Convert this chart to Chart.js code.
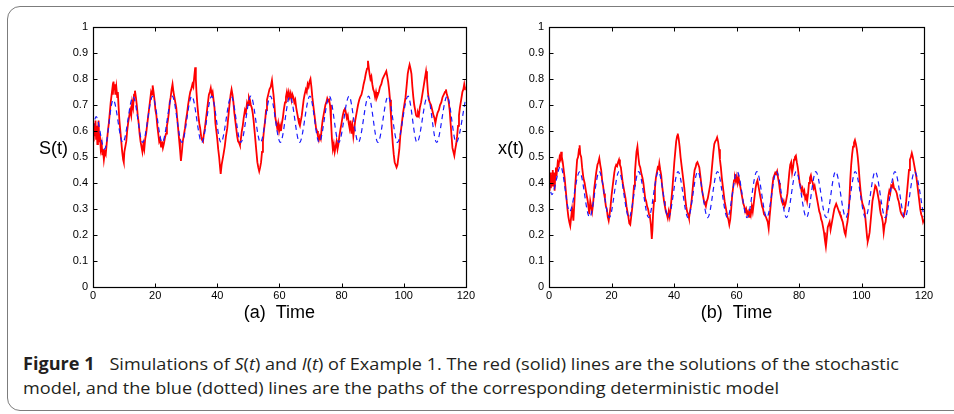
<!DOCTYPE html>
<html><head><meta charset="utf-8">
<script src="https://cdn.jsdelivr.net/npm/chart.js@4/dist/chart.umd.min.js"></script>
<style>
html,body{margin:0;padding:0;background:#fff;}
body{width:954px;height:414px;overflow:hidden;position:relative;font-family:"Liberation Sans",Arial,sans-serif;}
#frame{position:absolute;left:7px;top:6px;width:980px;height:403px;border:1px solid #7c7c7c;border-radius:13px;}
.cv{position:absolute;top:0;}
.ylab{position:absolute;font-size:18px;color:#000;line-height:20px;}
#caption{position:absolute;left:23px;top:352px;font-family:"Open Sans","Noto Sans",sans-serif;font-size:17px;line-height:24px;color:#231f20;}
#caption span.l{display:block;white-space:nowrap;transform-origin:0 0;}
#caption b{font-weight:700;margin-right:14px;}
</style></head>
<body>
<div id="frame"></div>
<div class="cv" style="left:0;width:477px;height:330px"><canvas id="cS" width="477" height="330"></canvas></div>
<div class="cv" style="left:477px;width:477px;height:330px"><canvas id="cX" width="477" height="330"></canvas></div>
<div class="ylab" style="left:39px;top:138px">S(t)</div>
<div class="ylab" style="left:498px;top:138px">x(t)</div>
<div id="caption">
<span class="l" id="cap1"><b>Figure 1</b>Simulations of <i>S</i>(<i>t</i>) and <i>I</i>(<i>t</i>) of Example 1. The red (solid) lines are the solutions of the stochastic</span>
<span class="l" id="cap2">model, and the blue (dotted) lines are the paths of the corresponding deterministic model</span>
</div>
<script>
// ---- tick labels ----
const xTicks = [0, 20, 40, 60, 80, 100, 120];
const yTicks = [0, 0.1, 0.2, 0.3, 0.4, 0.5, 0.6, 0.7, 0.8, 0.9, 1];
const xTitleA = "(a)  Time";
const xTitleB = "(b)  Time";

// ---- (a) S(t): stochastic path [t, value] ----
const stochasticS = [
[0,0.60],[0.2,0.56],[0.4,0.63],[0.6,0.58],[0.8,0.64],[1.0,0.57],[1.2,0.62],[1.4,0.55],[1.6,0.60],[1.8,0.64],[2.0,0.56],[2.2,0.59],[2.5,0.53],[2.8,0.55],[3.0,0.51],[3.2,0.53],[3.5,0.49],[3.8,0.52],[4.1,0.51],[4.4,0.55],[4.8,0.60],[5.1,0.63],[5.4,0.67],[5.7,0.71],[5.9,0.73],[6.2,0.76],[6.4,0.74],[6.6,0.79],[6.8,0.76],[7.0,0.78],[7.2,0.74],[7.5,0.77],[7.8,0.73],[8.0,0.75],[8.2,0.70],[8.5,0.64],[8.8,0.60],[9.1,0.56],[9.4,0.52],[9.7,0.49],[9.9,0.48],
[10.1,0.52],[10.4,0.54],[10.7,0.56],[11.0,0.60],[11.3,0.63],[11.7,0.66],[12.0,0.68],[12.3,0.66],[12.6,0.71],[12.9,0.69],[13.2,0.74],[13.5,0.755],[13.8,0.73],[14.1,0.70],[14.4,0.66],[14.7,0.63],[15.0,0.59],[15.3,0.56],[15.6,0.54],[15.9,0.52],[16.2,0.55],[16.5,0.53],[16.8,0.57],[17.1,0.59],[17.5,0.63],[17.8,0.66],[18.1,0.69],[18.4,0.72],[18.7,0.75],[19.0,0.74],[19.2,0.775],[19.5,0.75],[19.8,0.72],
[20.1,0.68],[20.4,0.66],[20.7,0.62],[21.0,0.59],[21.3,0.56],[21.6,0.57],[21.9,0.54],[22.2,0.56],[22.5,0.535],[22.8,0.55],[23.1,0.57],[23.5,0.59],[23.8,0.62],[24.1,0.64],[24.4,0.67],[24.7,0.71],[25.0,0.73],[25.3,0.76],[25.6,0.78],[25.9,0.75],[26.2,0.73],[26.5,0.71],[26.8,0.69],[27.1,0.65],[27.4,0.61],[27.7,0.57],[28.0,0.53],[28.3,0.485],[28.6,0.52],[28.9,0.56],[29.2,0.58],[29.6,0.61],[29.9,0.64],
[30.3,0.67],[30.6,0.70],[31.0,0.73],[31.3,0.75],[31.6,0.76],[32.0,0.78],[32.3,0.77],[32.6,0.81],[32.9,0.845],[33.1,0.80],[33.3,0.75],[33.6,0.70],[33.9,0.66],[34.2,0.63],[34.5,0.61],[34.8,0.58],[35.1,0.565],[35.4,0.56],[35.7,0.59],[36.0,0.61],[36.3,0.64],[36.6,0.67],[37.0,0.71],[37.3,0.74],[37.6,0.75],[37.9,0.765],[38.2,0.74],[38.5,0.75],[38.8,0.72],[39.1,0.69],[39.4,0.63],[39.7,0.60],
[40.0,0.57],[40.3,0.53],[40.6,0.50],[40.9,0.46],[41.1,0.435],[41.4,0.47],[41.7,0.49],[42.0,0.51],[42.4,0.54],[42.8,0.58],[43.2,0.61],[43.6,0.66],[44.0,0.71],[44.3,0.74],[44.6,0.76],[44.9,0.74],[45.2,0.71],[45.5,0.67],[45.8,0.64],[46.1,0.61],[46.4,0.58],[46.7,0.56],[47.0,0.555],[47.3,0.545],[47.6,0.57],[47.9,0.60],[48.2,0.62],[48.5,0.65],[48.9,0.68],[49.2,0.67],[49.6,0.71],[49.9,0.70],
[50.2,0.73],[50.5,0.72],[50.8,0.70],[51.1,0.69],[51.4,0.67],[51.7,0.64],[52.0,0.60],[52.3,0.56],[52.6,0.52],[52.9,0.48],[53.2,0.46],[53.5,0.445],[53.8,0.46],[54.1,0.48],[54.4,0.52],[54.7,0.56],[55.0,0.60],[55.4,0.64],[55.7,0.68],[56.0,0.72],[56.4,0.74],[56.8,0.76],[57.2,0.77],[57.6,0.795],[57.9,0.76],[58.1,0.74],[58.4,0.70],[58.7,0.65],[59.0,0.63],[59.3,0.61],[59.6,0.63],[59.9,0.60],
[60.2,0.62],[60.5,0.60],[60.8,0.63],[61.1,0.65],[61.4,0.68],[61.8,0.71],[62.1,0.73],[62.4,0.75],[62.7,0.73],[63.0,0.75],[63.3,0.73],[63.6,0.745],[63.9,0.72],[64.2,0.74],[64.5,0.73],[64.8,0.71],[65.1,0.72],[65.4,0.69],[65.7,0.67],[66.0,0.65],[66.3,0.63],[66.6,0.62],[66.9,0.64],[67.2,0.66],[67.5,0.69],[67.8,0.72],[68.1,0.74],[68.5,0.76],[68.8,0.75],[69.1,0.78],[69.4,0.77],[69.7,0.79],
[70.0,0.80],[70.3,0.77],[70.6,0.73],[70.9,0.70],[71.2,0.67],[71.5,0.64],[71.8,0.61],[72.1,0.60],[72.4,0.58],[72.7,0.565],[73.0,0.58],[73.3,0.57],[73.6,0.61],[73.9,0.64],[74.2,0.66],[74.5,0.68],[74.8,0.70],[75.1,0.71],[75.4,0.725],[75.7,0.715],[76.0,0.72],[76.3,0.70],[76.6,0.64],[76.9,0.57],[77.2,0.53],[77.5,0.55],[77.8,0.52],[78.1,0.54],[78.4,0.56],[78.7,0.53],[79.0,0.55],[79.3,0.58],[79.7,0.61],
[80.0,0.63],[80.4,0.66],[80.8,0.68],[81.1,0.69],[81.4,0.67],[81.7,0.65],[82.0,0.66],[82.3,0.63],[82.6,0.61],[82.9,0.64],[83.2,0.59],[83.5,0.62],[83.8,0.58],[84.1,0.61],[84.4,0.64],[84.7,0.66],[85.0,0.68],[85.3,0.70],[85.7,0.72],[86.0,0.73],[86.4,0.74],[86.8,0.76],[87.1,0.78],[87.5,0.80],[87.8,0.82],[88.2,0.84],[88.5,0.87],[88.8,0.84],[89.0,0.82],[89.3,0.80],[89.6,0.81],[89.9,0.78],
[90.2,0.76],[90.5,0.75],[90.8,0.73],[91.1,0.75],[91.4,0.73],[91.7,0.74],[92.0,0.75],[92.4,0.77],[92.8,0.78],[93.2,0.80],[93.6,0.81],[94.0,0.82],[94.4,0.83],[94.7,0.81],[95.0,0.79],[95.3,0.76],[95.6,0.72],[95.9,0.66],[96.2,0.60],[96.5,0.55],[96.8,0.51],[97.1,0.48],[97.4,0.47],[97.7,0.46],[98.0,0.47],[98.3,0.50],[98.6,0.53],[98.9,0.58],[99.2,0.61],[99.5,0.64],[99.8,0.67],
[100.2,0.70],[100.6,0.73],[101.0,0.78],[101.3,0.82],[101.6,0.84],[101.9,0.855],[102.2,0.84],[102.5,0.82],[102.8,0.77],[103.1,0.73],[103.4,0.70],[103.7,0.68],[104.0,0.66],[104.3,0.655],[104.6,0.67],[104.9,0.66],[105.2,0.69],[105.6,0.71],[106.0,0.74],[106.4,0.77],[106.8,0.80],[107.2,0.83],[107.5,0.80],[107.8,0.75],[108.1,0.72],[108.4,0.71],[108.8,0.70],[109.2,0.68],[109.6,0.66],[109.9,0.65],
[110.2,0.63],[110.5,0.65],[110.9,0.67],[111.3,0.68],[111.7,0.70],[112.1,0.71],[112.5,0.73],[112.9,0.74],[113.3,0.75],[113.6,0.76],[113.9,0.74],[114.2,0.73],[114.5,0.71],[114.8,0.68],[115.1,0.63],[115.4,0.58],[115.7,0.535],[116.0,0.52],[116.3,0.505],[116.6,0.53],[116.9,0.55],[117.2,0.58],[117.5,0.62],[117.8,0.66],[118.1,0.69],[118.5,0.72],[118.9,0.75],[119.2,0.76],[119.5,0.78],[119.8,0.76],[120,0.77]
];

// ---- (a) S(t): deterministic path, turning points [t, value] ----
const deterministicS = [
[0,0.61],[1.0,0.655],[3.7,0.53],[6.5,0.72],[9.6,0.555],[12.9,0.732],[16.0,0.556],[19.2,0.733],[22.3,0.556],[25.5,0.734],[28.6,0.556],[31.8,0.734],[35.0,0.556],[38.2,0.734],[41.2,0.556],[44.5,0.734],[47.6,0.556],[50.8,0.734],[53.9,0.556],[57.1,0.734],[60.3,0.556],[63.4,0.734],[66.5,0.556],[69.8,0.734],[72.8,0.556],[76.1,0.734],[79.1,0.556],[82.4,0.734],[85.4,0.556],[88.7,0.734],[91.7,0.556],[95.0,0.734],[98.0,0.556],[101.4,0.734],[104.3,0.556],[107.7,0.734],[110.6,0.556],[114.0,0.734],[116.9,0.556],[120,0.725]
];

// ---- (b) x(t): stochastic path [t, value] ----
const stochasticX = [
[0,0.41],[0.2,0.37],[0.4,0.44],[0.6,0.38],[0.8,0.43],[1.0,0.39],[1.2,0.45],[1.4,0.40],[1.6,0.44],[1.8,0.37],[2.0,0.43],[2.2,0.46],[2.5,0.44],[2.8,0.48],[3.1,0.47],[3.4,0.50],[3.7,0.49],[3.9,0.52],[4.1,0.50],[4.4,0.48],[4.7,0.45],[5.0,0.42],[5.3,0.38],[5.6,0.34],[5.9,0.30],[6.2,0.27],[6.5,0.25],[6.8,0.235],[7.1,0.27],[7.4,0.30],[7.6,0.28],[7.8,0.255],[8.1,0.32],[8.4,0.39],[8.7,0.44],[9.0,0.49],[9.3,0.50],[9.6,0.53],[9.8,0.545],
[10.0,0.51],[10.3,0.50],[10.6,0.46],[11.0,0.42],[11.4,0.40],[11.8,0.37],[12.1,0.35],[12.4,0.33],[12.7,0.30],[12.9,0.28],[13.2,0.33],[13.5,0.31],[13.8,0.29],[14.1,0.32],[14.5,0.38],[14.8,0.41],[15.1,0.44],[15.5,0.47],[15.8,0.48],[16.1,0.495],[16.4,0.47],[16.7,0.45],[17.0,0.41],[17.3,0.39],[17.6,0.36],[17.9,0.34],[18.2,0.31],[18.5,0.30],[18.8,0.27],[19.1,0.255],[19.4,0.28],[19.7,0.31],
[20.0,0.35],[20.3,0.38],[20.6,0.41],[20.9,0.44],[21.2,0.46],[21.5,0.47],[21.8,0.465],[22.1,0.48],[22.4,0.49],[22.7,0.47],[23.0,0.46],[23.3,0.43],[23.6,0.40],[23.9,0.38],[24.2,0.36],[24.5,0.34],[24.8,0.31],[25.1,0.29],[25.4,0.27],[25.7,0.245],[26.0,0.24],[26.3,0.27],[26.6,0.30],[26.9,0.34],[27.2,0.39],[27.5,0.44],[27.8,0.49],[28.0,0.52],[28.3,0.54],[28.6,0.50],[28.9,0.47],[29.2,0.46],[29.5,0.44],[29.9,0.42],
[30.2,0.40],[30.5,0.37],[30.8,0.34],[31.1,0.33],[31.4,0.31],[31.7,0.30],[32.0,0.28],[32.3,0.27],[32.6,0.24],[32.9,0.185],[33.1,0.22],[33.3,0.28],[33.6,0.33],[33.9,0.38],[34.2,0.42],[34.5,0.44],[34.8,0.46],[35.1,0.455],[35.3,0.475],[35.6,0.45],[35.9,0.43],[36.2,0.39],[36.5,0.36],[36.8,0.33],[37.1,0.31],[37.4,0.29],[37.7,0.28],[38.0,0.265],[38.3,0.29],[38.6,0.27],[38.9,0.30],[39.2,0.34],[39.5,0.38],[39.8,0.43],
[40.1,0.48],[40.4,0.52],[40.7,0.56],[41.0,0.58],[41.2,0.59],[41.5,0.57],[41.8,0.54],[42.1,0.50],[42.4,0.47],[42.7,0.44],[43.0,0.41],[43.3,0.38],[43.6,0.34],[43.9,0.31],[44.2,0.29],[44.5,0.28],[44.8,0.265],[45.1,0.29],[45.4,0.31],[45.7,0.34],[46.0,0.38],[46.3,0.42],[46.6,0.45],[46.9,0.46],[47.2,0.475],[47.5,0.48],[47.8,0.47],[48.1,0.46],[48.4,0.43],[48.7,0.40],[49.0,0.37],[49.3,0.35],[49.6,0.33],[49.9,0.32],
[50.2,0.31],[50.5,0.33],[50.8,0.34],[51.1,0.36],[51.4,0.38],[51.7,0.40],[52.0,0.44],[52.3,0.48],[52.6,0.52],[52.9,0.55],[53.2,0.56],[53.5,0.565],[53.8,0.575],[54.1,0.56],[54.4,0.53],[54.7,0.49],[55.0,0.46],[55.3,0.42],[55.6,0.39],[55.9,0.36],[56.2,0.33],[56.5,0.31],[56.8,0.29],[57.1,0.27],[57.4,0.26],[57.7,0.24],[58.0,0.26],[58.3,0.30],[58.6,0.35],[58.9,0.38],[59.2,0.41],[59.5,0.42],[59.8,0.405],
[60.1,0.425],[60.4,0.40],[60.7,0.42],[61.0,0.40],[61.3,0.38],[61.6,0.36],[61.9,0.34],[62.2,0.32],[62.5,0.31],[62.8,0.29],[63.1,0.30],[63.4,0.28],[63.7,0.29],[64.0,0.27],[64.3,0.30],[64.6,0.28],[64.9,0.31],[65.2,0.29],[65.5,0.32],[65.8,0.35],[66.1,0.38],[66.4,0.40],[66.7,0.41],[67.0,0.39],[67.3,0.37],[67.6,0.35],[67.9,0.33],[68.2,0.31],[68.5,0.30],[68.8,0.28],[69.1,0.275],[69.4,0.27],[69.7,0.26],
[70.0,0.25],[70.3,0.225],[70.6,0.27],[70.9,0.31],[71.2,0.35],[71.5,0.39],[71.8,0.42],[72.1,0.43],[72.4,0.44],[72.7,0.435],[73.0,0.445],[73.3,0.42],[73.6,0.40],[73.9,0.37],[74.2,0.35],[74.5,0.33],[74.8,0.32],[75.1,0.33],[75.4,0.31],[75.7,0.32],[76.0,0.34],[76.3,0.36],[76.6,0.40],[76.9,0.44],[77.2,0.47],[77.5,0.48],[77.8,0.44],[78.1,0.46],[78.4,0.49],[78.7,0.50],[79.0,0.505],[79.3,0.48],[79.6,0.46],[79.9,0.43],
[80.2,0.40],[80.5,0.39],[80.8,0.37],[81.1,0.38],[81.4,0.36],[81.7,0.37],[82.0,0.34],[82.3,0.35],[82.6,0.33],[82.9,0.36],[83.2,0.40],[83.5,0.42],[83.8,0.43],[84.1,0.41],[84.4,0.40],[84.7,0.38],[85.0,0.39],[85.3,0.37],[85.6,0.35],[85.9,0.33],[86.2,0.31],[86.5,0.29],[86.8,0.28],[87.1,0.26],[87.4,0.25],[87.7,0.23],[88.0,0.21],[88.3,0.18],[88.6,0.155],[88.9,0.19],[89.2,0.23],[89.5,0.24],[89.8,0.25],
[90.1,0.22],[90.4,0.24],[90.7,0.26],[91.0,0.28],[91.3,0.30],[91.6,0.31],[91.9,0.32],[92.2,0.31],[92.5,0.30],[92.8,0.29],[93.1,0.28],[93.4,0.275],[93.7,0.26],[94.0,0.25],[94.3,0.23],[94.6,0.21],[94.9,0.20],[95.2,0.23],[95.5,0.25],[95.8,0.28],[96.1,0.33],[96.4,0.41],[96.7,0.47],[97.0,0.51],[97.3,0.54],[97.6,0.555],[97.9,0.565],[98.2,0.55],[98.5,0.53],[98.8,0.50],[99.1,0.46],[99.4,0.41],[99.7,0.37],
[100.0,0.34],[100.3,0.32],[100.6,0.31],[100.9,0.30],[101.2,0.27],[101.5,0.23],[101.8,0.19],[102.0,0.175],[102.3,0.19],[102.6,0.21],[102.9,0.25],[103.2,0.29],[103.5,0.33],[103.8,0.35],[104.1,0.37],[104.4,0.39],[104.7,0.385],[105.0,0.37],[105.3,0.35],[105.6,0.33],[105.9,0.30],[106.2,0.28],[106.5,0.27],[106.8,0.25],[107.1,0.21],[107.4,0.24],[107.7,0.25],[108.0,0.28],[108.3,0.32],[108.6,0.35],[108.9,0.37],[109.2,0.36],[109.5,0.39],[109.8,0.385],
[110.1,0.40],[110.4,0.38],[110.7,0.375],[111.0,0.37],[111.3,0.36],[111.6,0.34],[111.9,0.33],[112.2,0.31],[112.5,0.29],[112.8,0.28],[113.1,0.275],[113.4,0.27],[113.7,0.28],[114.0,0.30],[114.3,0.33],[114.6,0.37],[114.9,0.41],[115.2,0.45],[115.5,0.49],[115.8,0.50],[116.1,0.515],[116.4,0.50],[116.7,0.48],[117.0,0.46],[117.3,0.44],[117.6,0.42],[117.9,0.39],[118.2,0.36],[118.5,0.33],[118.8,0.30],[119.1,0.28],[119.4,0.27],[119.7,0.25],[120.0,0.26]
];

// ---- (b) x(t): deterministic path, turning points [t, value] ----
const deterministicX = [
[0,0.40],[0.9,0.355],[3.7,0.465],[6.6,0.29],[9.8,0.443],[13.0,0.268],[16.1,0.444],[19.3,0.267],[22.4,0.444],[25.6,0.267],[28.7,0.444],[31.9,0.267],[35.0,0.444],[38.2,0.267],[41.3,0.444],[44.5,0.267],[47.6,0.444],[50.8,0.267],[53.9,0.444],[57.1,0.267],[60.2,0.444],[63.4,0.267],[66.5,0.444],[69.7,0.267],[72.8,0.444],[76.0,0.267],[79.1,0.444],[82.4,0.267],[85.4,0.444],[88.7,0.267],[91.7,0.444],[95.0,0.267],[98.0,0.444],[101.3,0.267],[104.4,0.444],[107.6,0.267],[110.7,0.444],[113.9,0.267],[117.0,0.444],[120,0.27]
];

const toXY = arr => arr.map(p => ({x: p[0], y: p[1]}));

Chart.defaults.font.family = '"Liberation Sans", Arial, sans-serif';
Chart.defaults.color = '#000';

const boxTicks = {
  id: 'boxTicks',
  afterDatasetsDraw(chart) {
    const {ctx, chartArea: a, scales: {x, y}} = chart;
    ctx.save();
    ctx.strokeStyle = '#000';
    ctx.lineWidth = 1.2;
    ctx.setLineDash([]);
    const L = Math.round(a.left) + 0.5, R = Math.round(a.right) + 0.5;
    const T = Math.round(a.top) + 0.5, B = Math.round(a.bottom) + 0.5;
    ctx.strokeRect(L, T, R - L, B - T);
    ctx.lineWidth = 1;
    ctx.beginPath();
    x.ticks.forEach(t => {
      const px = Math.round(x.getPixelForValue(t.value)) + 0.5;
      ctx.moveTo(px, B); ctx.lineTo(px, B - 4);
      ctx.moveTo(px, T); ctx.lineTo(px, T + 4);
    });
    y.ticks.forEach(t => {
      const py = Math.round(y.getPixelForValue(t.value)) + 0.5;
      ctx.moveTo(L, py); ctx.lineTo(L + 4, py);
      ctx.moveTo(R, py); ctx.lineTo(R - 4, py);
    });
    ctx.stroke();
    ctx.restore();
  }
};

function makeChart(id, stoch, det, xTitle, yAxisWidth, padRight) {
  return new Chart(document.getElementById(id), {
    type: 'line',
    data: {
      datasets: [
        {data: toXY(det), borderColor: '#1a1aff', borderWidth: 1.2, borderDash: [5, 4],
         pointRadius: 0, cubicInterpolationMode: 'monotone', order: 1},
        {data: toXY(stoch), borderColor: '#ff0000', borderWidth: 1.8,
         pointRadius: 0, tension: 0, order: 2}
      ]
    },
    options: {
      responsive: false, animation: false, devicePixelRatio: 1,
      layout: {padding: {top: 27, right: padRight, left: 0, bottom: 0}},
      plugins: {legend: {display: false}, tooltip: {enabled: false}},
      scales: {
        x: {
          type: 'linear', min: 0, max: 120,
          grid: {display: false, drawTicks: false}, border: {display: false},
          ticks: {padding: 2, font: {size: 11}, color: '#000', maxRotation: 0, autoSkip: false, callback: v => String(v)},
          afterBuildTicks: s => { s.ticks = xTicks.map(v => ({value: v})); },
          afterFit: s => { s.height = 43; },
          title: {display: true, text: xTitle, font: {size: 18}, color: '#000', padding: {top: 0, bottom: 6}}
        },
        y: {
          type: 'linear', min: 0, max: 1,
          grid: {display: false, drawTicks: false}, border: {display: false},
          ticks: {padding: 5, font: {size: 11}, color: '#000', autoSkip: false, callback: v => String(v)},
          afterBuildTicks: s => { s.ticks = yTicks.map(v => ({value: v})); },
          afterFit: s => { s.width = yAxisWidth; }
        }
      }
    },
    plugins: [boxTicks]
  });
}

makeChart('cS', stochasticS, deterministicS, xTitleA, 93, 9);
makeChart('cX', stochasticX, deterministicX, xTitleB, 72, 30);

// fit caption lines to the reference widths
function fitLine(id, target) {
  const el = document.getElementById(id);
  el.style.display = 'inline-block';
  const w = el.getBoundingClientRect().width;
  el.style.display = 'block';
  return target / w;
}
const k = fitLine('cap1', 876);
document.getElementById('cap1').style.transform = 'scaleX(' + k + ')';
document.getElementById('cap2').style.transform = 'scaleX(' + k + ')';
</script>
</body></html>
